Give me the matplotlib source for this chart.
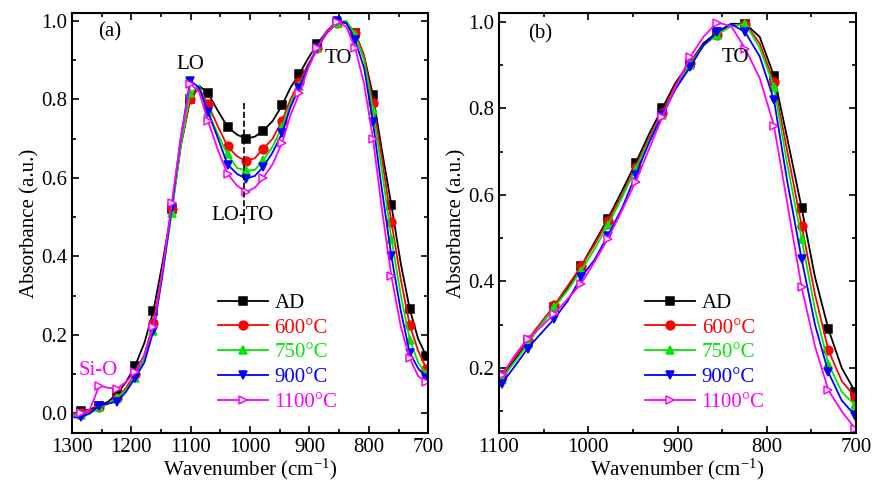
import numpy as np
import matplotlib
matplotlib.use("Agg")
import matplotlib.pyplot as plt
from matplotlib.ticker import MultipleLocator, FormatStrFormatter

plt.rcParams['font.family'] = ['Liberation Serif', 'DejaVu Serif']
plt.rcParams['mathtext.fontset'] = 'custom'
plt.rcParams['mathtext.rm'] = 'Liberation Serif'
plt.rcParams['mathtext.it'] = 'Liberation Serif:italic'

# ---- panel (a): full band, 1300-700 cm-1 (markers on every other point) ----
wn_a = [1300, 1285, 1270, 1254, 1239, 1224, 1209, 1194, 1178, 1163, 1148,
        1132, 1117, 1101, 1086, 1071, 1054, 1038, 1022, 1007, 992, 978, 962,
        946, 932, 917, 902, 887, 870, 853, 838, 823, 808, 793, 778, 762, 746,
        731, 717, 703, 700]

ad_a = [0.0, 0.005, 0.01, 0.02, 0.03, 0.05, 0.08, 0.12, 0.18, 0.26, 0.38,
        0.52, 0.68, 0.80, 0.835, 0.815, 0.77, 0.73, 0.71, 0.70, 0.705, 0.72,
        0.745, 0.785, 0.83, 0.865, 0.905, 0.94, 0.975, 0.995, 0.995, 0.97,
        0.91, 0.81, 0.67, 0.53, 0.38, 0.265, 0.19, 0.145, 0.135]
t600_a = [-0.005, 0.0, 0.005, 0.015, 0.025, 0.04, 0.065, 0.10, 0.15, 0.23,
          0.36, 0.52, 0.68, 0.80, 0.83, 0.787, 0.73, 0.68, 0.655, 0.643,
          0.65, 0.674, 0.70, 0.746, 0.80, 0.845, 0.89, 0.93, 0.97, 0.995,
          0.995, 0.97, 0.91, 0.79, 0.65, 0.487, 0.34, 0.224, 0.16, 0.114, 0.11]
t750_a = [-0.005, -0.005, 0.0, 0.015, 0.025, 0.04, 0.06, 0.09, 0.14, 0.21,
          0.35, 0.51, 0.68, 0.815, 0.835, 0.768, 0.71, 0.66, 0.625, 0.619,
          0.62, 0.645, 0.68, 0.73, 0.79, 0.835, 0.885, 0.93, 0.975, 0.995,
          1.0, 0.965, 0.90, 0.772, 0.62, 0.445, 0.30, 0.188, 0.13, 0.10, 0.095]
t900_a = [-0.01, -0.01, 0.0, 0.02, 0.025, 0.03, 0.055, 0.09, 0.13, 0.21,
          0.35, 0.525, 0.70, 0.848, 0.83, 0.768, 0.70, 0.634, 0.61, 0.598,
          0.605, 0.628, 0.665, 0.714, 0.78, 0.83, 0.885, 0.93, 0.975, 1.0,
          0.995, 0.95, 0.88, 0.742, 0.57, 0.40, 0.26, 0.154, 0.115, 0.09, 0.085]
t1100_a = [0.0, 0.0, 0.01, 0.071, 0.065, 0.063, 0.08, 0.105, 0.15, 0.22,
           0.36, 0.535, 0.70, 0.84, 0.82, 0.745, 0.67, 0.61, 0.58, 0.564,
           0.575, 0.599, 0.635, 0.69, 0.76, 0.815, 0.88, 0.93, 0.975, 0.997,
           0.985, 0.93, 0.84, 0.70, 0.52, 0.349, 0.22, 0.14, 0.095, 0.08, 0.075]

# ---- panel (b): TO band, 1100-700 cm-1 ----
wn_b = [1100, 1097, 1082, 1068, 1053, 1038, 1023, 1008, 993, 978, 962, 947,
        932, 917, 902, 886, 871, 856, 840, 824, 808, 792, 777, 761, 746, 731,
        716, 701, 700]

ad_b = [0.18, 0.183, 0.22, 0.26, 0.30, 0.341, 0.385, 0.435, 0.49, 0.545,
        0.61, 0.673, 0.74, 0.80, 0.86, 0.905, 0.95, 0.975, 0.995, 0.995,
        0.965, 0.875, 0.73, 0.57, 0.41, 0.29, 0.20, 0.145, 0.14]
t600_b = [0.18, 0.185, 0.225, 0.265, 0.305, 0.345, 0.39, 0.435, 0.485, 0.54,
          0.60, 0.665, 0.73, 0.79, 0.855, 0.905, 0.945, 0.97, 0.99, 0.995,
          0.95, 0.86, 0.70, 0.529, 0.37, 0.241, 0.17, 0.133, 0.125]
t750_b = [0.17, 0.175, 0.215, 0.255, 0.30, 0.34, 0.38, 0.425, 0.475, 0.53,
          0.595, 0.66, 0.725, 0.785, 0.85, 0.90, 0.945, 0.97, 0.99, 0.995,
          0.94, 0.85, 0.67, 0.499, 0.335, 0.21, 0.145, 0.114, 0.11]
t900_b = [0.16, 0.164, 0.205, 0.245, 0.28, 0.314, 0.355, 0.41, 0.45, 0.506,
          0.57, 0.645, 0.72, 0.785, 0.845, 0.895, 0.945, 0.975, 0.995, 0.975,
          0.92, 0.82, 0.63, 0.452, 0.30, 0.19, 0.125, 0.09, 0.085]
t1100_b = [0.18, 0.183, 0.23, 0.268, 0.295, 0.325, 0.36, 0.395, 0.445, 0.499,
           0.565, 0.63, 0.705, 0.78, 0.85, 0.918, 0.965, 0.998, 0.99, 0.937,
           0.87, 0.76, 0.58, 0.387, 0.25, 0.149, 0.10, 0.06, 0.05]

labels = ['AD', '600°C', '750°C', '900°C', '1100°C']
colors = ['black', '#ff0000', '#00e600', '#0000ff', '#ff00ff']
markers = ['s', 'o', '^', 'v', '>']

fig = plt.figure(figsize=(8.73, 4.83), dpi=100)
ax_a = fig.add_axes([0.0825, 0.1035, 0.408, 0.8696])
ax_b = fig.add_axes([0.5716, 0.1035, 0.409, 0.8696])


def draw_panel(ax, wn, series):
    for y, lab, c, m in zip(series, labels, colors, markers):
        face = 'white' if m == '>' else c
        ax.plot(wn, y, color=c, lw=1.3, marker=m, ms=6.3, mfc=face, mec=c,
                mew=1.1, markevery=slice(1, None, 2), label=lab)
    ax.legend(loc='lower left', bbox_to_anchor=(0.41, 0.05),
              frameon=False, fontsize=15, handlelength=2.4,
              handletextpad=0.3, labelspacing=0.25, borderpad=0,
              borderaxespad=0, labelcolor='linecolor')
    ax.set_xlabel('Wavenumber (cm$^{-1}$)', fontsize=15, labelpad=0)
    ax.set_ylabel('Absorbance (a.u.)', fontsize=15, labelpad=1)
    ax.xaxis.set_major_locator(MultipleLocator(100))
    ax.xaxis.set_minor_locator(MultipleLocator(50))
    ax.yaxis.set_major_locator(MultipleLocator(0.2))
    ax.yaxis.set_minor_locator(MultipleLocator(0.1))
    ax.yaxis.set_major_formatter(FormatStrFormatter('%.1f'))
    ax.tick_params(which='both', direction='in', top=True, right=True,
                   labelsize=15, width=1.2)
    ax.tick_params(which='major', length=5)
    ax.tick_params(which='minor', length=3)
    for s in ax.spines.values():
        s.set_linewidth(1.5)


draw_panel(ax_a, wn_a, [ad_a, t600_a, t750_a, t900_a, t1100_a])
ax_a.set_xlim(1300, 700)
ax_a.set_ylim(-0.05, 1.02)
ax_a.text(0.107, 0.955, '(a)', transform=ax_a.transAxes, fontsize=15,
          ha='center', va='center')
ax_a.text(1101, 0.89, 'LO', fontsize=15, ha='center', va='center')
ax_a.text(852, 0.905, 'TO', fontsize=15, ha='center', va='center')
ax_a.text(1013, 0.505, 'LO-TO', fontsize=15, ha='center', va='center')
ax_a.plot([1010, 1010], [0.79, 0.48], color='black', ls='--', lw=1.2)
ax_a.text(1255, 0.11, 'Si-O', fontsize=15, color='#ff00ff',
          ha='center', va='center')

draw_panel(ax_b, wn_b, [ad_b, t600_b, t750_b, t900_b, t1100_b])
ax_b.set_xlim(1100, 700)
ax_b.set_ylim(0.05, 1.02)
ax_b.text(0.115, 0.95, '(b)', transform=ax_b.transAxes, fontsize=15,
          ha='center', va='center')
ax_b.text(835, 0.917, 'TO', fontsize=15, ha='center', va='center')

fig.savefig('out.png', dpi=100)
